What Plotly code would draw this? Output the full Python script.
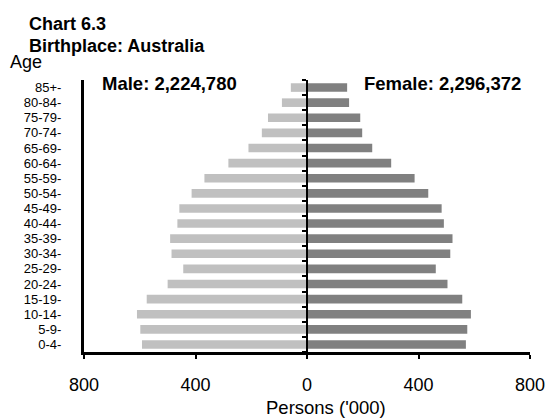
import plotly.graph_objects as go

age_groups = ["0-4-", "5-9-", "10-14-", "15-19-", "20-24-", "25-29-", "30-34-", "35-39-",
              "40-44-", "45-49-", "50-54-", "55-59-", "60-64-", "65-69-", "70-74-",
              "75-79-", "80-84-", "85+-"]
male = [592, 598, 610, 575, 500, 444, 486, 491, 465, 458, 414, 368, 282, 210, 162, 140, 90, 58]
female = [570, 575, 588, 557, 504, 462, 514, 522, 491, 483, 435, 386, 302, 234, 198, 191, 151, 144]
x_tickvals = [-800, -400, 0, 400, 800]
x_ticktext = ["800", "400", "0", "400", "800"]

male_total = "Male: 2,224,780"
female_total = "Female: 2,296,372"

FONT = "Liberation Sans, Arial, sans-serif"
W, H = 547, 418
ML, MR, MT, MB = 84, 17, 80, 66
PW, PH = W - ML - MR, H - MT - MB


def px(xp):
    return (xp - ML) / PW


def py(yp):
    return (H - MB - yp) / PH


fig = go.Figure()
fig.add_trace(go.Bar(y=age_groups, x=[-v for v in male], orientation="h",
                     marker=dict(color="#c0c0c0", line=dict(width=0)), name="Male"))
fig.add_trace(go.Bar(y=age_groups, x=female, orientation="h",
                     marker=dict(color="#808080", line=dict(width=0)), name="Female"))
# invisible trace to establish the centre axis
fig.add_trace(go.Scatter(x=[0], y=[0], yaxis="y2", mode="markers",
                         marker=dict(opacity=0), hoverinfo="skip", showlegend=False))

n = len(age_groups)
fig.update_layout(
    width=W, height=H,
    margin=dict(l=ML, r=MR, t=MT, b=MB, pad=0, autoexpand=False),
    paper_bgcolor="white", plot_bgcolor="white",
    barmode="overlay", bargap=0.43,
    showlegend=False,
    font=dict(family=FONT, color="black", size=18),
    xaxis=dict(range=[-800, 800], tickvals=x_tickvals, ticktext=x_ticktext,
               showgrid=False, zeroline=False, showline=True, linecolor="black",
               linewidth=3, ticks="outside", ticklen=4, tickwidth=2, tickcolor="black",
               tickfont=dict(size=18), ticklabelstandoff=10, automargin=False),
    yaxis=dict(type="category", categoryorder="array", categoryarray=age_groups,
               tickmode="array", tickvals=age_groups, ticktext=age_groups,
               range=[-0.5, n - 0.5], showgrid=False, zeroline=False, showline=True,
               linecolor="black", linewidth=3, ticks="", tickfont=dict(size=13),
               ticklabelstandoff=17, automargin=False),
    yaxis2=dict(overlaying="y", anchor="free", position=0.5, range=[-0.5, n - 0.5],
                tickvals=[i - 0.5 for i in range(n + 1)], showticklabels=False,
                showgrid=False, zeroline=False, showline=True, linecolor="black",
                linewidth=2, ticks="outside", ticklen=4, tickwidth=2, tickcolor="black",
                automargin=False),
)

annots = [
    ("<b>Chart 6.3</b>", 27, 24, "left", 18),
    ("<b>Birthplace: Australia</b>", 27, 46, "left", 18),
    ("Age", 8, 62, "left", 18),
    ("<b>" + male_total + "</b>", 100, 84, "left", 18.5),
    ("<b>" + female_total + "</b>", 362, 84, "left", 18.5),
    ("Persons ('000)", 325.5, 407.5, "center", 18.5),
]
for text, xp, yp, xa, size in annots:
    fig.add_annotation(text=text, xref="paper", yref="paper",
                       x=px(xp), y=py(yp),
                       xanchor=xa, yanchor="middle", showarrow=False,
                       font=dict(size=size, family=FONT, color="black"))

fig.write_html("out.html", config={"displayModeBar": False},
               post_script="document.body.style.margin='0px';")
